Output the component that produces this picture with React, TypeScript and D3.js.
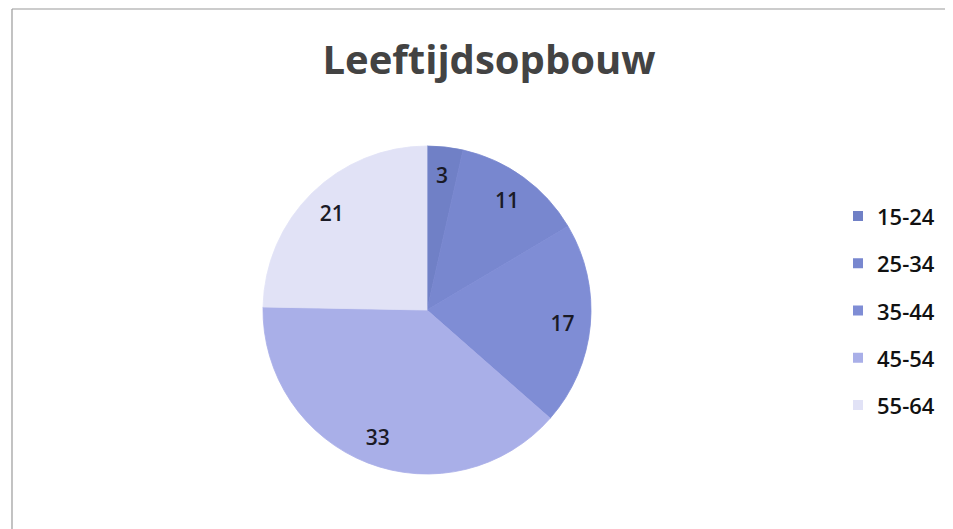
import React from "react";
import * as d3 from "d3";

const categories: string[] = ["15-24", "25-34", "35-44", "45-54", "55-64"];
const values: number[] = [3, 11, 17, 33, 21];
const colors: string[] = ["#7080c6", "#7887cf", "#7f8dd5", "#a9afe8", "#e1e2f6"];
const title = "Leeftijdsopbouw";

const W = 953;
const H = 529;
const cx = 427;
const cy = 310;
const R = 164;

export default function App() {
  const pie = d3.pie<number>().sort(null).value((d) => d)(values);
  const arc = d3.arc<d3.PieArcDatum<number>>().innerRadius(0).outerRadius(R);
  const labelArc = d3.arc<d3.PieArcDatum<number>>().innerRadius(R * 0.83).outerRadius(R * 0.83);
  const legendY = d3.scalePoint<string>().domain(categories).range([216, 405]);

  return (
    <svg width={W} height={H} style={{ position: "absolute", left: 0, top: 0, background: "#fff" }}>
      <line x1={12} y1={9} x2={945} y2={9} stroke="#9a9a9a" strokeWidth={1.2} />
      <line x1={12} y1={9} x2={12} y2={529} stroke="#9a9a9a" strokeWidth={1.2} />
      <text
        x={489}
        y={74}
        textAnchor="middle"
        fontFamily="'Open Sans', sans-serif"
        fontWeight={700}
        fontSize={40}
        fill="#434343"
      >
        {title}
      </text>
      <g transform={`translate(${cx},${cy})`}>
        {pie.map((p, i) => (
          <path key={i} d={arc(p) || ""} fill={colors[i]} stroke={colors[i]} strokeWidth={0.8} />
        ))}
        {pie.map((p, i) => {
          const [x, y] = labelArc.centroid(p);
          return (
            <text
              key={"l" + i}
              x={x}
              y={y}
              textAnchor="middle"
              dominantBaseline="central"
              fontFamily="'Open Sans', sans-serif"
              fontSize={21}
              fontWeight={600}
              fill="#1a1a26"
            >
              {values[i]}
            </text>
          );
        })}
      </g>
      <g>
        {categories.map((c, i) => {
          const y = legendY(c) as number;
          return (
            <g key={c}>
              <rect x={853} y={y - 5} width={10} height={10} fill={colors[i]} />
              <text
                x={877}
                y={y}
                dominantBaseline="central"
                fontFamily="'Open Sans', sans-serif"
                fontSize={22}
                fontWeight={600}
                fill="#111"
              >
                {c}
              </text>
            </g>
          );
        })}
      </g>
    </svg>
  );
}
